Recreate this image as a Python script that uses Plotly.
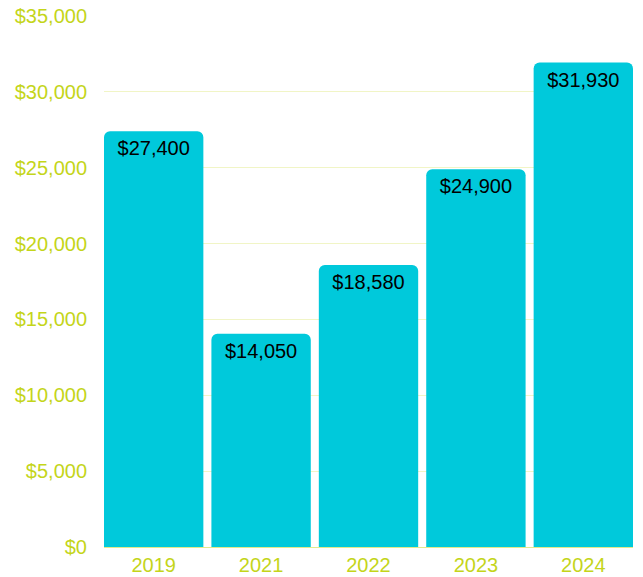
import plotly.graph_objects as go

years = ["2019", "2021", "2022", "2023", "2024"]
values = [27400, 14050, 18580, 24900, 31930]
y_ticks = [0, 5000, 10000, 15000, 20000, 25000, 30000, 35000]
y_tick_labels = ["$0", "$5,000", "$10,000", "$15,000", "$20,000", "$25,000", "$30,000", "$35,000"]

bar_color = "#00c9db"
axis_color = "#c4d51a"
gap = 0.075

fig = go.Figure(
    go.Bar(
        x=years,
        y=values,
        marker=dict(color=bar_color, line=dict(width=0)),
        text=[f"${v:,}" for v in values],
        textposition="inside",
        insidetextanchor="end",
        constraintext="none",
        textfont=dict(color="#000000", size=20, family="Liberation Sans, Arial, sans-serif"),
        hoverinfo="skip",
    )
)

fig.update_layout(
    width=643,
    height=577,
    margin=dict(l=104, r=10, t=16, b=30),
    paper_bgcolor="white",
    plot_bgcolor="white",
    bargap=gap,
    barcornerradius=6,
    showlegend=False,
    font=dict(family="Liberation Sans, Arial, sans-serif", size=20, color=axis_color),
    xaxis=dict(
        type="category",
        range=[-0.5 + gap / 2, 4.5 - gap / 2],
        automargin=False,
        showgrid=False,
        showline=False,
        ticks="",
        ticklabelstandoff=4,
        tickfont=dict(size=20, color=axis_color),
    ),
    yaxis=dict(
        range=[0, 35000],
        automargin=False,
        tickvals=y_ticks,
        ticktext=y_tick_labels,
        showgrid=True,
        gridcolor="#f1f5c6",
        gridwidth=1,
        zeroline=True,
        zerolinecolor="#e2ea8c",
        zerolinewidth=1,
        ticks="",
        ticklabelstandoff=16,
        tickfont=dict(size=20, color=axis_color),
    ),
)

fig.write_html("out.html")
